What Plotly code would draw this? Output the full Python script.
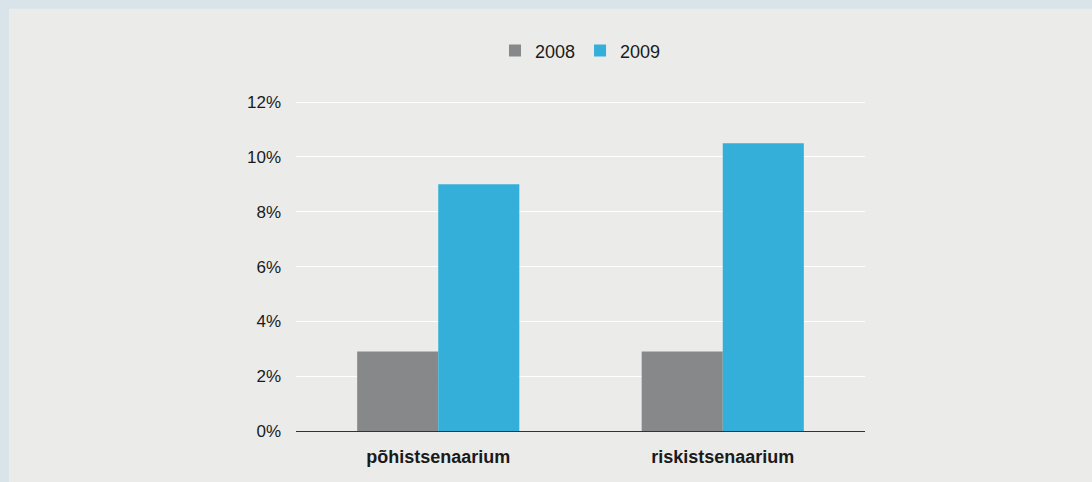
import plotly.graph_objects as go

categories = ["põhistsenaarium", "riskistsenaarium"]
series_names = ["2008", "2009"]
values_2008 = [2.9, 2.9]
values_2009 = [9.0, 10.5]
y_ticks = [0, 2, 4, 6, 8, 10, 12]
y_ticklabels = ["0%", "2%", "4%", "6%", "8%", "10%", "12%"]

W, H = 1092, 482
L, R, T, B = 296, 227, 102, 51
pw, ph = W - L - R, H - T - B

def px_x(px):
    return (px - L) / pw

def px_y(py):
    return (H - B - py) / ph

fig = go.Figure()
fig.add_trace(go.Bar(name=series_names[0], x=categories, y=values_2008,
                     marker=dict(color="#878889", line=dict(width=0))))
fig.add_trace(go.Bar(name=series_names[1], x=categories, y=values_2009,
                     marker=dict(color="#33afd9", line=dict(width=0))))

border = "#d8e3ea"
shapes = [
    dict(type="rect", xref="paper", yref="paper", layer="below",
         x0=px_x(0), x1=px_x(W), y0=px_y(10), y1=px_y(0),
         fillcolor=border, line=dict(width=0)),
    dict(type="rect", xref="paper", yref="paper", layer="below",
         x0=px_x(0), x1=px_x(9), y0=px_y(H), y1=px_y(0),
         fillcolor=border, line=dict(width=0)),
]

fig.update_layout(
    width=W, height=H,
    margin=dict(l=L, r=R, t=T - 1, b=B, pad=0),
    paper_bgcolor="#ebecea",
    plot_bgcolor="rgba(0,0,0,0)",
    barmode="group",
    bargap=0.43,
    bargroupgap=0,
    font=dict(family="Liberation Sans, Arial, sans-serif", size=17, color="#1a1a1a"),
    showlegend=True,
    legend=dict(orientation="h", x=0.5, xanchor="center", y=px_y(52), yanchor="middle",
                font=dict(size=18), bgcolor="rgba(0,0,0,0)", traceorder="normal",
                itemwidth=30),
    shapes=shapes,
    xaxis=dict(showline=True, linecolor="#333333", linewidth=1, showgrid=False,
               ticks="", ticklabelstandoff=9,
               tickfont=dict(size=18, weight="bold", color="#1a1a1a"),
               fixedrange=True),
    yaxis=dict(range=[0, 12.04], tickmode="array", tickvals=y_ticks, ticktext=y_ticklabels,
               showgrid=True, gridcolor="#ffffff", gridwidth=1,
               zeroline=False, showline=False, ticks="", ticklabelstandoff=14,
               tickfont=dict(size=17, color="#1a1a1a"), fixedrange=True),
)

fig.write_html("out.html")
